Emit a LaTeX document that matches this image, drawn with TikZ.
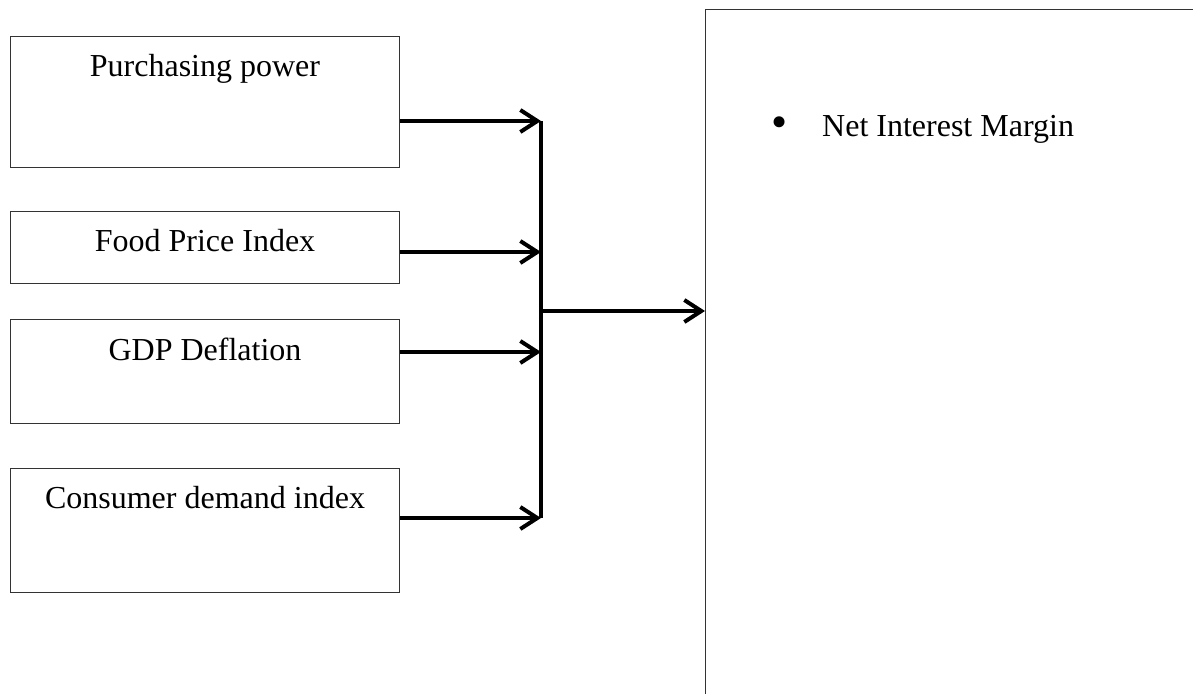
\documentclass[tikz,border=0pt]{standalone}
\usepackage{fontspec}
\setmainfont{Liberation Serif}
\usetikzlibrary{arrows.meta}
\begin{document}
\begin{tikzpicture}[x=1pt,y=-1pt,
  inbox/.style={draw=black!80,line width=1.3pt,rectangle,inner sep=0pt,anchor=north west},
  lbl/.style={font=\fontsize{32}{38}\selectfont,inner sep=0pt,anchor=base},
  conn/.style={line width=4pt,black},
  arr/.style={conn,-{Straight Barb[length=17pt,width=22pt]}}]
\useasboundingbox (0,0) rectangle (1193,693);
% input boxes
\node[inbox,minimum width=389pt,minimum height=131pt] (b1) at (10,36) {};
\node[inbox,minimum width=389pt,minimum height=72pt]  (b2) at (10,211) {};
\node[inbox,minimum width=389pt,minimum height=104pt] (b3) at (10,319) {};
\node[inbox,minimum width=389pt,minimum height=124pt] (b4) at (10,468) {};
\node[lbl] (t1) at (205,77) {Purchasing power};
\node[lbl] (t2) at (205,251) {Food Price Index};
\node[lbl] (t3) at (205,360) {GDP Deflation};
\node[lbl] (t4) at (205,508) {Consumer demand index};
% output box
\node[inbox,minimum width=600pt,minimum height=720pt] (out) at (705,9) {};
\node[lbl,font=\fontsize{46}{46}\selectfont] (t5b) at (780,137) {\textbullet};
\node[lbl,anchor=base west] (t5) at (822,136) {Net Interest Margin};
% junctions
\coordinate (j1) at (541,121);
\coordinate (j2) at (541,252);
\coordinate (j3) at (541,352);
\coordinate (j4) at (541,518);
\coordinate (jm) at (541,311);
\draw[arr] (b1.east |- j1) -- (j1);
\draw[arr] (b2.east |- j2) -- (j2);
\draw[arr] (b3.east |- j3) -- (j3);
\draw[arr] (b4.east |- j4) -- (j4);
\draw[conn] (j1) -- (j4);
\draw[arr] (jm) -- (jm -| out.west);
\end{tikzpicture}
\end{document}
